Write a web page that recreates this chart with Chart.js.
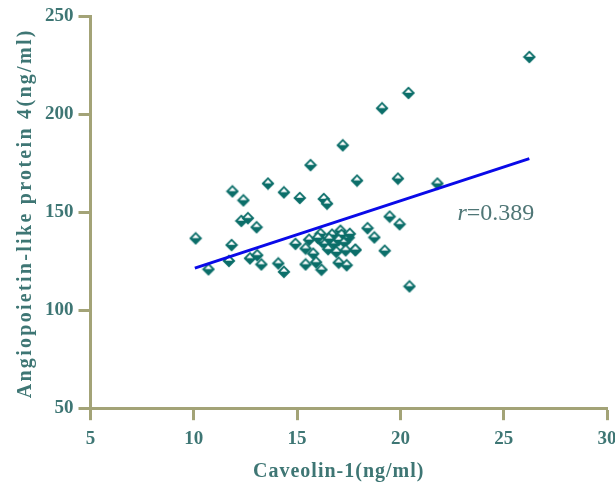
<!DOCTYPE html>
<html>
<head>
<meta charset="utf-8">
<script src="https://cdn.jsdelivr.net/npm/chart.js@4"></script>
<style>
  html, body { margin: 0; padding: 0; background: #fff; overflow: hidden; }
  #wrap { width: 625px; height: 484px; position: relative; }
</style>
</head>
<body>
<div id="wrap"><canvas id="c"></canvas></div>
<script>
// ---- data ----
const caveolin = [
  10.09, 10.71, 11.70, 11.87, 11.83, 12.40, 12.30, 12.62, 13.04, 12.72,
  13.07, 13.27, 13.59, 14.09, 14.36, 14.36, 15.13, 15.65, 16.29, 16.45,
  17.21, 17.90, 19.11, 20.39, 26.24, 19.88, 21.79, 19.48, 19.96, 18.41,
  18.74, 17.82, 19.24, 20.44,
  14.92, 15.41, 15.58, 15.78, 15.41, 15.92, 16.18, 17.01, 17.40,
  16.13, 16.69, 17.10, 17.15, 16.21, 16.37, 16.50, 16.80, 16.90, 17.01,
  17.30, 17.35, 16.00, 16.55, 17.50, 17.55, 17.82
];
const angptl4 = [
  136.7, 120.9, 125.2, 160.7, 133.3, 156.1, 145.6, 147.0, 142.4, 126.5,
  128.1, 123.4, 164.7, 123.9, 160.2, 119.6, 157.3, 174.1, 156.8, 154.4,
  184.2, 166.2, 203.1, 210.9, 229.3, 167.2, 164.7, 147.8, 143.9, 141.9,
  137.2, 130.7, 130.4, 112.2,
  133.9, 131.5, 136.0, 128.9, 123.4, 124.5, 120.7, 124.3, 123.0,
  139.0, 138.6, 140.6, 138.5, 135.0, 134.0, 131.2, 134.1, 129.8, 135.9,
  134.8, 130.6, 137.0, 136.5, 137.1, 139.0, 130.9
];
const fitX = [10.05, 26.24];
const fitY = [121.5, 177.4];
const xTicks = [5, 10, 15, 20, 25, 30];
const yTicks = [50, 100, 150, 200, 250];
const rLabel = { x: 22.76, y: 146.0, r: 'r', value: '=0.389' };
const xTitle = 'Caveolin-1(ng/ml)';
const yTitle = 'Angiopoietin-like protein 4(ng/ml)';

// ---- styles ----
const TEAL = '#0b6e69';
const AXIS = '#a3a377';
const LABEL = '#3e7674';
const SERIF = '"Liberation Serif", "DejaVu Serif", serif';

// marker: diamond with white cap
function makeMarker() {
  const s = 14, c = document.createElement('canvas');
  c.width = s; c.height = s;
  const g = c.getContext('2d');
  g.fillStyle = TEAL;
  g.beginPath();
  g.moveTo(7, 0.5); g.lineTo(13.5, 7); g.lineTo(7, 13.5); g.lineTo(0.5, 7);
  g.closePath(); g.fill();
  g.fillStyle = '#ffffff';
  g.beginPath();
  g.moveTo(7, 3.0); g.lineTo(10.5, 6.8); g.lineTo(3.5, 6.8);
  g.closePath(); g.fill();
  return c;
}
const marker = makeMarker();

const points = caveolin.map((x, i) => ({ x, y: angptl4[i] }));
const fit = fitX.map((x, i) => ({ x, y: fitY[i] }));

const textPlugin = {
  id: 'texts',
  afterDatasetsDraw(chart) {
    const { ctx, scales, chartArea } = chart;
    // r label
    const px = scales.x.getPixelForValue(rLabel.x);
    const py = scales.y.getPixelForValue(rLabel.y);
    ctx.save();
    ctx.fillStyle = '#4f7676';
    ctx.textBaseline = 'alphabetic';
    ctx.textAlign = 'left';
    ctx.font = 'italic 24px ' + SERIF;
    ctx.fillText(rLabel.r, px, py);
    const w = ctx.measureText(rLabel.r).width;
    ctx.font = '24px ' + SERIF;
    ctx.fillText(rLabel.value, px + w, py);
    ctx.restore();

    // axis titles
    ctx.save();
    ctx.fillStyle = LABEL;
    ctx.font = 'bold 20px ' + SERIF;
    ctx.textAlign = 'center';
    ctx.textBaseline = 'alphabetic';
    ctx.letterSpacing = '1px';
    ctx.fillText(xTitle, (chartArea.left + chartArea.right) / 2 - 10, 477);
    ctx.restore();

    ctx.save();
    ctx.fillStyle = LABEL;
    ctx.font = 'bold 20px ' + SERIF;
    ctx.textAlign = 'center';
    ctx.textBaseline = 'alphabetic';
    ctx.letterSpacing = '2.3px';
    ctx.translate(31, (chartArea.top + chartArea.bottom) / 2 + 1);
    ctx.rotate(-Math.PI / 2);
    ctx.fillText(yTitle, 0, 0);
    ctx.restore();
  }
};

new Chart(document.getElementById('c'), {
  data: {
    datasets: [
      {
        type: 'line', data: fit, borderColor: '#0a0ae8', borderWidth: 3,
        pointRadius: 0, fill: false, order: 0
      },
      {
        type: 'scatter', data: points, pointStyle: marker,
        pointRadius: 7, order: 1
      }
    ]
  },
  options: {
    responsive: true,
    maintainAspectRatio: false,
    animation: false,
    devicePixelRatio: 1,
    layout: { padding: { left: 40, right: 18, top: 12, bottom: 27 } },
    plugins: { legend: { display: false }, tooltip: { enabled: false } },
    scales: {
      x: {
        type: 'linear', min: 5, max: 30,
        afterBuildTicks(s) { s.ticks = xTicks.map(v => ({ value: v })); },
        ticks: { color: LABEL, font: { family: SERIF, size: 19, weight: 'bold' }, padding: 7, maxRotation: 0 },
        grid: { drawOnChartArea: false, drawTicks: true, tickLength: 12, tickWidth: 3, tickColor: AXIS },
        border: { color: AXIS, width: 3 },
        title: { display: false }
      },
      y: {
        type: 'linear', min: 50, max: 250,
        afterBuildTicks(s) { s.ticks = yTicks.map(v => ({ value: v })); },
        ticks: { color: LABEL, font: { family: SERIF, size: 19, weight: 'bold' }, padding: 5 },
        grid: { drawOnChartArea: false, drawTicks: true, tickLength: 12, tickWidth: 3, tickColor: AXIS },
        border: { color: AXIS, width: 3 },
        title: { display: false }
      }
    }
  },
  plugins: [textPlugin]
});
</script>
</body>
</html>
